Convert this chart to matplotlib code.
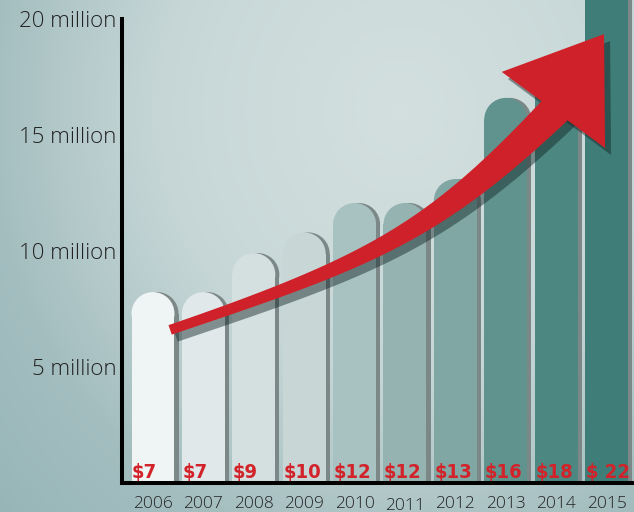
import numpy as np
import matplotlib
matplotlib.use("Agg")
import matplotlib.pyplot as plt
from matplotlib.patches import Ellipse, Polygon
from matplotlib.colors import LinearSegmentedColormap
from matplotlib.transforms import ScaledTranslation

YEARS = ["2006", "2007", "2008", "2009", "2010", "2011", "2012", "2013", "2014", "2015"]
BAR_HEIGHTS = [8.23, 8.23, 9.91, 10.8, 12.07, 12.07, 13.1, 16.6, 17.8, 22.0]
BAR_LABELS = ["$7", "$7", "$9", "$10", "$12", "$12", "$13", "$16", "$18", "$ 22"]
BAR_COLORS = ["#eff4f4", "#e0e8e9", "#d4dfdf", "#c8d6d6", "#a8c1c1",
              "#94b3b1", "#80a7a4", "#60938e", "#4c8781", "#3f7e78"]
Y_TICKS = [5, 10, 15, 20]
Y_TICK_LABELS = ["5 million", "10 million", "15 million", "20 million"]

# trend arrow: bezier control points (bar index, millions) and head corners
ARROW_CTRL = [(0.34, 6.6), (4.31, 9.53), (5.56, 10.82), (7.94, 15.99)]
ARROW_HEAD = [(6.92, 17.72), (8.95, 19.35), (8.97, 14.44)]

RED = "#d2232a"
W, H, DPI = 634, 512, 100

fig = plt.figure(figsize=(W / DPI, H / DPI), dpi=DPI)

# background gradient
bg = fig.add_axes([0, 0, 1, 1])
bg.set_axis_off()
yy, xx = np.mgrid[0:H, 0:W]
d = np.hypot((xx - 400) / 1.0, (yy - 110) / 1.1)
g = np.clip(d / 560, 0, 1) ** 1.3
cmap = LinearSegmentedColormap.from_list("bg", ["#d3dfdf", "#c6d6d6", "#a4bec0", "#95b4b6"])
bg.imshow(g, cmap=cmap, aspect="auto", extent=[0, 1, 0, 1], vmin=0, vmax=1)

ax = fig.add_axes([122 / W, (H - 483) / H, (W - 122) / W, (483 - 19) / H])
ax.patch.set_alpha(0)
ax.set_xlim(-0.615, 9.544)
ax.set_ylim(0, 20)

x = np.arange(len(YEARS))
bw = 0.853
shadow_dx = 0.08
rx = bw / 2
# make the caps round in pixels
px_x = ax.get_window_extent().width / (9.544 + 0.615)
px_y = ax.get_window_extent().height / 20
ry = rx * px_x / px_y
heights = np.array(BAR_HEIGHTS)

ax.bar(x + shadow_dx, heights - ry, width=bw, color="#7c8888", zorder=1, clip_on=False)
ax.bar(x, heights - ry, width=bw, color=BAR_COLORS, zorder=2, clip_on=False)
for xi, h, c in zip(x, heights, BAR_COLORS):
    ax.add_patch(Ellipse((xi + shadow_dx, h - ry), bw, 2 * ry, color="#7c8888", zorder=1, clip_on=False, lw=0))
    ax.add_patch(Ellipse((xi, h - ry), bw, 2 * ry, color=c, zorder=2, clip_on=False, lw=0))

for xi, lab in zip(x, BAR_LABELS):
    ax.text(xi - bw / 2 + 0.01, 0.2, lab, color=RED, fontsize=14.5, fontweight="bold",
            fontstretch="condensed",
            family=["Liberation Sans Narrow", "DejaVu Sans"], ha="left", va="baseline", zorder=5)

# arrow
P = ax.transData.transform(np.array(ARROW_CTRL))
t = np.linspace(0, 1, 80)[:, None]
C = ((1 - t) ** 3) * P[0] + 3 * ((1 - t) ** 2) * t * P[1] + 3 * (1 - t) * t ** 2 * P[2] + t ** 3 * P[3]
D = -3 * ((1 - t) ** 2) * P[0] + 3 * (1 - 4 * t + 3 * t ** 2) * P[1] + 3 * (2 * t - 3 * t ** 2) * P[2] + 3 * t ** 2 * P[3]
D = D / np.linalg.norm(D, axis=1)[:, None]
C = np.vstack([C, C[-1] + D[-1] * 14])
D = np.vstack([D, D[-1]])
tt = np.append(t[:, 0], 1.0)
half = (10 + 22 * tt ** 1.5) / 2
N = np.column_stack([-D[:, 1], D[:, 0]])
shaft_px = np.vstack([C + N * half[:, None], (C - N * half[:, None])[::-1]])
head_px = ax.transData.transform(np.array(ARROW_HEAD))

inv = ax.transData.inverted()
off = np.array([6, -7])
for poly in (shaft_px, head_px):
    ax.add_patch(Polygon(inv.transform(poly + off), closed=True, color="#0f2222", alpha=0.45,
                         lw=0, zorder=3, clip_on=False))
for poly in (shaft_px, head_px):
    ax.add_patch(Polygon(inv.transform(poly), closed=True, color="#cf2129", lw=0, zorder=4, clip_on=False))

# axes styling
for s in ["top", "right"]:
    ax.spines[s].set_visible(False)
for s in ["left", "bottom"]:
    ax.spines[s].set_linewidth(2.9)
    ax.spines[s].set_color("black")
    ax.spines[s].set_zorder(6)
    ax.spines[s].set_capstyle("projecting")

ax.set_yticks(Y_TICKS)
ax.set_yticklabels(Y_TICK_LABELS, family=["Open Sans", "DejaVu Sans"], fontweight="light",
                   fontsize=16, color="#222222")
ax.set_xticks(x)
ax.set_xticklabels(YEARS, family=["Open Sans", "DejaVu Sans"], fontweight="light",
                   fontsize=12.5, color="#222222")
ax.tick_params(axis="both", length=0)
ax.tick_params(axis="y", pad=4)
ax.tick_params(axis="x", pad=9)
lbl = ax.get_xticklabels()[5]
lbl.set_transform(lbl.get_transform() + ScaledTranslation(0, -2 / DPI, fig.dpi_scale_trans))

fig.savefig("out.png", dpi=DPI)
